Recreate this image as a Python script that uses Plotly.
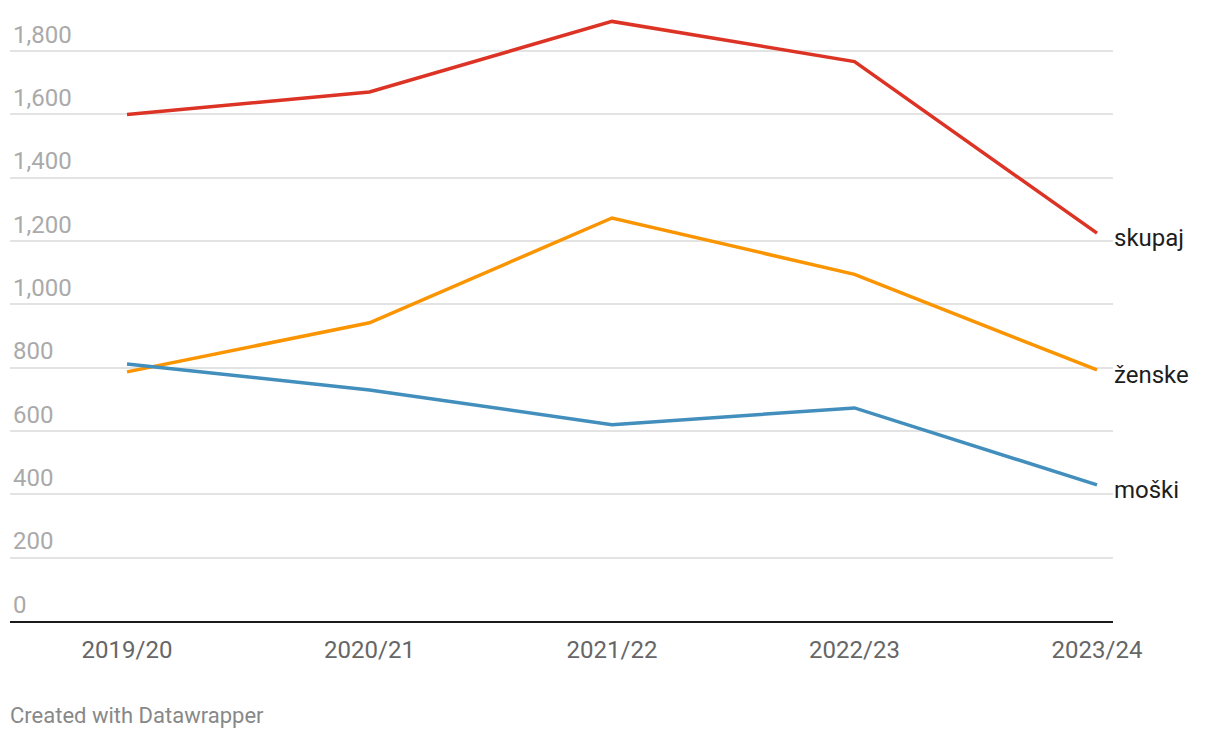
import plotly.graph_objects as go

categories = ["2019/20", "2020/21", "2021/22", "2022/23", "2023/24"]
skupaj = [1600, 1671, 1894, 1767, 1225]
zenske = [787, 942, 1273, 1095, 793]
moski = [812, 730, 620, 673, 430]

series = [
    ("skupaj", skupaj, "#dc3325"),
    ("ženske", zenske, "#fa9400"),
    ("moški", moski, "#428ebc"),
]

y_ticks = [0, 200, 400, 600, 800, 1000, 1200, 1400, 1600, 1800]
y_ticktext = [f"{v:,}" for v in y_ticks]

x_idx = list(range(len(categories)))

fig = go.Figure()
for name, vals, color in series:
    fig.add_trace(go.Scatter(
        x=x_idx, y=vals, mode="lines", name=name,
        line=dict(color=color, width=3.5),
        hoverinfo="skip",
    ))
    fig.add_annotation(
        x=x_idx[-1], y=vals[-1], text=name, xref="x", yref="y",
        xanchor="left", yanchor="middle", showarrow=False, xshift=15, yshift=-5,
        font=dict(family="Roboto", size=24, color="#1d1d1d"),
    )

fig.add_annotation(
    x=0, y=0, xref="paper", yref="paper",
    text="Created with Datawrapper", showarrow=False,
    xanchor="left", yanchor="middle", xshift=-2, yshift=-94,
    font=dict(family="Roboto", size=22, color="#888888"),
)

fig.update_layout(
    width=1220, height=738,
    margin=dict(l=10, r=107, t=10, b=117),
    paper_bgcolor="white", plot_bgcolor="white",
    showlegend=False,
    font=dict(family="Roboto"),
    xaxis=dict(
        range=[-0.4825, 4.066],
        tickmode="array", tickvals=x_idx, ticktext=categories,
        tickfont=dict(family="Roboto", size=24, color="#666666"),
        showgrid=False, zeroline=False,
        showline=True, linecolor="#1a1a1a", linewidth=2,
        ticks="", ticklabelstandoff=6,
        fixedrange=True,
    ),
    yaxis=dict(
        range=[0, 1930],
        tickmode="array", tickvals=y_ticks, ticktext=y_ticktext,
        ticklabelposition="inside top",
        tickfont=dict(family="Roboto", size=24, color="#aaaaaa"),
        showgrid=True, gridcolor="#e3e3e3", gridwidth=1.5,
        zeroline=False, showline=False, ticks="",
        fixedrange=True,
    ),
)

fig.write_html("out.html")
